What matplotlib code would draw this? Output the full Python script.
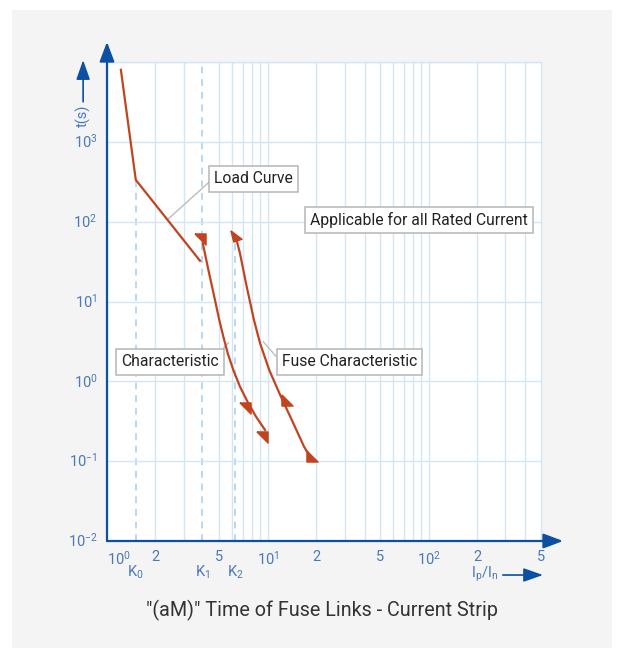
import numpy as np
import matplotlib
matplotlib.use("Agg")
import matplotlib.pyplot as plt
from matplotlib.ticker import FixedLocator, NullFormatter
from matplotlib.patches import Rectangle

plt.rcParams["font.family"] = ["Roboto", "DejaVu Sans"]
plt.rcParams["mathtext.default"] = "regular"

# ---- data (x = Ip/In, y = t in s) ----
load_x = [1.22, 1.51, 3.79]
load_y = [7980, 334, 32.3]

char_x = [3.94, 4.27, 4.50, 4.74, 4.99, 5.29, 5.63, 6.10, 6.71, 7.56, 8.45, 9.61]
char_y = [53.8, 24.9, 15.4, 9.52, 5.88, 3.63, 2.25, 1.39, 0.859, 0.532, 0.361, 0.246]

fuse_x = [6.30, 6.71, 7.39, 8.20, 8.95, 10.2, 11.8, 14.1, 16.8, 18.3]
fuse_y = [66.4, 40.3, 15.4, 5.88, 3.0, 1.39, 0.71, 0.328, 0.152, 0.114]

char_arrow_x = [3.79, 7.21, 9.2]
char_arrow_y = [60.8, 0.46, 0.20]
fuse_arrow_x = [6.34, 13.2, 18.8]
fuse_arrow_y = [66.4, 0.585, 0.116]

k_names = ["K$_0$", "K$_1$", "K$_2$"]
k_values = [1.51, 3.9, 6.25]
k_tops = [334, 1e4, 66.4]

x_major = [1, 2, 5, 10, 20, 50, 100, 200, 500]
x_major_labels = ["$10^0$", "2", "5", "$10^1$", "2", "5", "$10^2$", "2", "5"]
y_major = [1e-2, 1e-1, 1e0, 1e1, 1e2, 1e3]
y_major_labels = ["$10^{-2}$", "$10^{-1}$", "$10^0$", "$10^1$", "$10^2$", "$10^3$"]

RED = "#c0451f"
BLUE = "#0d4fa3"
TICK = "#4a78ba"
GRID = "#d3e6f6"
DASH = "#b9d8f1"
BOX = "#b5b5b5"

fig = plt.figure(figsize=(6.22, 6.51), dpi=100)
fig.patch.set_facecolor("white")
fig.patches.append(Rectangle((12 / 622, 3 / 651), 600 / 622, 638 / 651,
                             transform=fig.transFigure, facecolor="#f4f4f4",
                             edgecolor="none", zorder=-10))

ax = fig.add_axes([107 / 622, 110 / 651, 434 / 622, 479 / 651])
ax.set_facecolor("white")
ax.set_xscale("log")
ax.set_yscale("log")
ax.set_xlim(1, 500)
ax.set_ylim(1e-2, 1e4)

# grid (minor line at 4 is replaced by the dashed K1 line)
minor = [m * d for d in (1, 10, 100) for m in range(2, 10) if m * d < 500 and m * d != 4]
ax.xaxis.set_major_locator(FixedLocator([1, 10, 100]))
ax.xaxis.set_minor_locator(FixedLocator(minor))
ax.xaxis.set_major_formatter(NullFormatter())
ax.xaxis.set_minor_formatter(NullFormatter())
ax.yaxis.set_major_locator(FixedLocator(y_major + [1e4]))
ax.yaxis.set_minor_locator(FixedLocator([]))
ax.yaxis.set_major_formatter(NullFormatter())
ax.grid(True, which="both", axis="x", color=GRID, lw=1.0, zorder=0)
ax.grid(True, which="major", axis="y", color=GRID, lw=1.0, zorder=0)
ax.tick_params(which="both", length=0)

for s in ("top", "right"):
    ax.spines[s].set_color(GRID)
    ax.spines[s].set_linewidth(1.0)
for s in ("left", "bottom"):
    ax.spines[s].set_visible(False)

# tick labels as text
for xv, lab in zip(x_major, x_major_labels):
    t = ax.text(xv, -0.018, lab, transform=ax.get_xaxis_transform(), ha="center",
                va="top", color=TICK, fontsize=10.5)
    if xv == 1:
        t.set_ha("left")
        t.set_x(0.995)
for yv, lab in zip(y_major, y_major_labels):
    ax.text(-0.022, yv, lab, transform=ax.get_yaxis_transform(), ha="right",
            va="center", color=TICK, fontsize=10.5)

# K lines
for name, kv, top in zip(k_names, k_values, k_tops):
    ax.plot([kv, kv], [1e-2, top], color=DASH, lw=1.4, ls=(0, (3.5, 3)), zorder=1)
    ax.text(kv, -0.048, name, transform=ax.get_xaxis_transform(), ha="center",
            va="top", color=TICK, fontsize=10.5)

# curves
for xs, ys in ((load_x, load_y), (char_x, char_y), (fuse_x, fuse_y)):
    ax.plot(xs, ys, color=RED, lw=1.6, zorder=3, solid_joinstyle="round")

m_ne = [(-1, 1), (1, 1), (1, -1), (-1, 1)]
m_sw = [(-1, 1), (-1, -1), (1, -1), (-1, 1)]
m_up = [(-1, 1), (1, -0.5), (-0.5, -1), (-1, 1)]
for xv, yv in zip(char_arrow_x, char_arrow_y):
    ax.plot(xv, yv, marker=m_ne, ms=8, color=RED, mec=RED, zorder=4, clip_on=False)
for i, (xv, yv) in enumerate(zip(fuse_arrow_x, fuse_arrow_y)):
    ax.plot(xv, yv, marker=m_up if i == 0 else m_sw, ms=8, color=RED, mec=RED,
            zorder=4, clip_on=False)

# axis arrows
arrow_kw = dict(arrowstyle="-|>,head_length=0.85,head_width=0.32", color=BLUE,
                lw=1.6, mutation_scale=14, shrinkA=0, shrinkB=0)
ax.annotate("", xy=(0, 1.042), xytext=(0, 0), xycoords="axes fraction",
            textcoords="axes fraction", arrowprops=arrow_kw, annotation_clip=False)
ax.annotate("", xy=(1.051, 0), xytext=(0, 0), xycoords="axes fraction",
            textcoords="axes fraction", arrowprops=arrow_kw, annotation_clip=False)
small_kw = dict(arrowstyle="-|>,head_length=0.85,head_width=0.3", color=BLUE,
                lw=1.2, mutation_scale=14, shrinkA=0, shrinkB=0)
ax.annotate("", xy=(-0.055, 1.004), xytext=(-0.055, 0.917), xycoords="axes fraction",
            textcoords="axes fraction", arrowprops=small_kw, annotation_clip=False)
ax.annotate("", xy=(1.0046, -0.071), xytext=(0.912, -0.071), xycoords="axes fraction",
            textcoords="axes fraction", arrowprops=small_kw, annotation_clip=False)
ax.text(-0.055, 0.887, "t(s)", transform=ax.transAxes, rotation=90, ha="center",
        va="center", color=TICK, fontsize=10.5)
ax.text(0.871, -0.069, "I$_p$/I$_n$", transform=ax.transAxes, ha="center",
        va="center", color=TICK, fontsize=10.5)

# label boxes
box = dict(boxstyle="square,pad=0.33", fc="white", ec=BOX, lw=1.1)
line_kw = dict(color="#bdbdbd", lw=1.0, transform=ax.transAxes, zorder=2)
ax.plot([0.1406, 0.235], [0.672, 0.749], **line_kw)
ax.plot([0.263, 0.2795], [0.397, 0.414], **line_kw)
ax.plot([0.360, 0.389], [0.416, 0.386], **line_kw)
label_kw = dict(transform=ax.transAxes, ha="left", va="center", fontsize=11.3,
                color="#222", bbox=box, zorder=5)
ax.text(0.2465, 0.756, "Load Curve", **label_kw)
ax.text(0.468, 0.670, "Applicable for all Rated Current", **label_kw)
ax.text(0.032, 0.374, "Characteristic", **label_kw)
ax.text(0.403, 0.374, "Fuse Characteristic", **label_kw)

fig.text(0.5177, 0.063, "\"(aM)\" Time of Fuse Links - Current Strip", ha="center",
         va="center", fontsize=14.2, color="#333")

fig.savefig("out.png", dpi=100)
